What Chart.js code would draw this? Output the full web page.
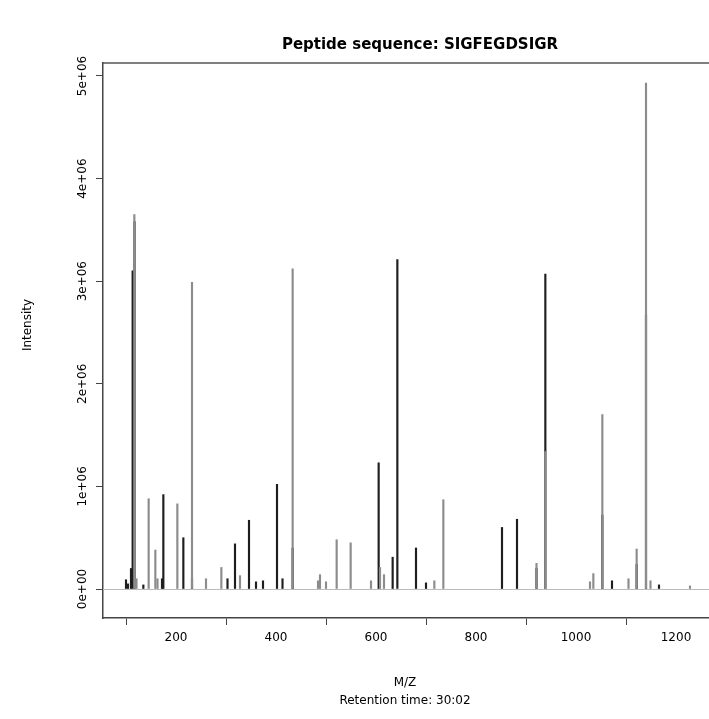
<!DOCTYPE html>
<html><head><meta charset="utf-8">
<script src="https://cdn.jsdelivr.net/npm/chart.js@4"></script>
<style>html,body{margin:0;padding:0;background:#fff}#w{width:709px;height:719px}</style>
</head><body><div id="w"><canvas id="c"></canvas></div>
<script>
const grayMZ = [116.7,121,145.3,158.7,163,202.7,232,260,290.7,328,433.3,484,488,500,521.3,549.3,590,608,616,716.7,734.7,921,938.7,1028,1034.7,1052.7,1105,1121.3,1140,1149,1228];
const grayInt = [3.65,0.1,0.88,0.38,0.1,0.83,2.99,0.1,0.21,0.13,3.12,0.08,0.14,0.07,0.48,0.45,0.08,0.21,0.14,0.08,0.87,0.25,1.34,0.07,0.15,1.70,0.10,0.39,4.93,0.08,0.03];
const blackMZ = [100,104,110,113.3,117,134.7,172,174.7,214.7,232,303,318,346,360,374,402,413,433.3,605.3,633.3,642.7,680,700,852,882,921,938.7,1052.7,1072,1121.3,1140,1166];
const blackInt = [0.09,0.05,0.2,3.1,3.58,0.04,0.1,0.92,0.5,0.1,0.1,0.44,0.67,0.07,0.08,1.02,0.1,0.4,1.23,0.31,3.21,0.4,0.06,0.6,0.68,0.2,3.07,0.72,0.08,0.24,2.67,0.04];
const xTicks = [200,400,600,800,1000,1200];
const yTicks = [0,1,2,3,4,5];
const yLabels = ['0e+00','1e+06','2e+06','3e+06','4e+06','5e+06'];
const FONT = '"DejaVu Sans", sans-serif';

const pts = (xs, ys) => xs.map((x,i)=>({x, y: ys[i]*1e6}));

const textPlugin = {
  id:'txt',
  beforeDatasetsDraw(chart){
    const {ctx, chartArea:a, scales:{x,y}} = chart;
    ctx.save();
    ctx.strokeStyle='#bbb'; ctx.lineWidth=1;
    const y0 = Math.round(y.getPixelForValue(0))+0.5;
    ctx.beginPath(); ctx.moveTo(a.left,y0); ctx.lineTo(a.right,y0); ctx.stroke();
    ctx.restore();
  },
  afterDraw(chart){
    const {ctx, chartArea:a, scales:{x,y}} = chart;
    ctx.save();
    ctx.strokeStyle='#555'; ctx.lineWidth=1.5;
    ctx.beginPath(); ctx.moveTo(a.left,a.top); ctx.lineTo(a.right,a.top); ctx.stroke();
    ctx.fillStyle='#000';
    ctx.font='bold 15px '+FONT; ctx.textAlign='center'; ctx.textBaseline='middle';
    ctx.fillText('Peptide sequence: SIGFEGDSIGR', 420, 45);
    ctx.font='12px '+FONT;
    ctx.fillText('M/Z', 405, 683);
    ctx.fillText('Retention time: 30:02', 405, 701);
    ctx.save(); ctx.translate(28,325); ctx.rotate(-Math.PI/2); ctx.fillText('Intensity',0,0); ctx.restore();
    yTicks.forEach((v,i)=>{
      ctx.save(); ctx.translate(83, y.getPixelForValue(v*1e6)); ctx.rotate(-Math.PI/2);
      ctx.fillText(yLabels[i],0,0); ctx.restore();
    });
    ctx.restore();
  }
};

new Chart(document.getElementById('c'), {
  type:'bar',
  data:{datasets:[
    {data:pts(grayMZ,grayInt), backgroundColor:'#8c8c8c', barThickness:1.5, grouped:false},
    {data:pts(blackMZ,blackInt), backgroundColor:'#1e1e1e', barThickness:1.5, grouped:false}
  ]},
  options:{
    responsive:true, maintainAspectRatio:false, animation:false, devicePixelRatio:1,
    layout:{padding:{top:63,left:0,right:0,bottom:0}},
    plugins:{legend:{display:false}, tooltip:{enabled:false}},
    scales:{
      x:{type:'linear', min:54, max:1266, offset:false,
        afterFit:s=>{s.height=101;},
        afterBuildTicks:s=>{s.ticks=xTicks.map(v=>({value:v}));},
        grid:{drawOnChartArea:false, tickLength:7, color:'#444', tickWidth:1},
        border:{color:'#444', width:1.5},
        ticks:{color:'#000', font:{size:12, family:FONT}, padding:6, maxRotation:0, autoSkip:false, callback:v=>String(v)}},
      y:{type:'linear', min:-0.2826e6, max:5.1267e6,
        afterFit:s=>{s.width=103;},
        afterBuildTicks:s=>{s.ticks=yTicks.map(v=>({value:v*1e6}));},
        grid:{drawOnChartArea:false, tickLength:7, color:'#444', tickWidth:1},
        border:{color:'#444', width:1.5},
        ticks:{callback:()=>'', font:{size:12}}}
    }
  },
  plugins:[textPlugin]
});
</script></body></html>
